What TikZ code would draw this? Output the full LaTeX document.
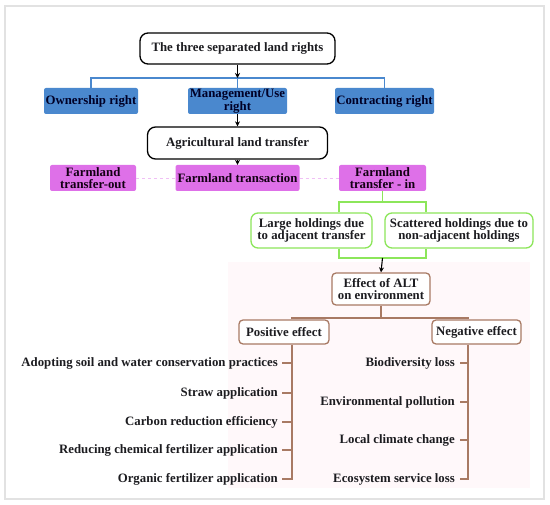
\documentclass[tikz,border=0pt]{standalone}
\usepackage{fontspec}
\setmainfont{Liberation Serif}
\usetikzlibrary{arrows.meta}
\definecolor{bluebox}{RGB}{74,136,206}
\definecolor{pinkbox}{RGB}{222,112,232}
\definecolor{greenl}{RGB}{140,230,90}
\definecolor{brownl}{RGB}{168,122,100}
\definecolor{frame}{RGB}{226,226,226}
\definecolor{pinkbg}{RGB}{255,248,250}
\definecolor{txt}{RGB}{28,28,32}
\begin{document}
\begin{tikzpicture}[x=1pt,y=-1pt,
  every node/.style={font=\bfseries\fontsize{12.8}{12.6}\selectfont, text=txt, align=center, inner sep=1pt},
  blackbox/.style={draw=black, line width=1.3pt, rounded corners=8pt, fill=white},
  bluebx/.style={fill=bluebox, rounded corners=2pt, text=black!85!blue, minimum height=26pt},
  pinkbx/.style={fill=pinkbox, rounded corners=2pt, text=black!85!violet, minimum height=26pt},
  greenbx/.style={draw=greenl, line width=1.3pt, rounded corners=7pt, fill=white, minimum height=35pt},
  brownbx/.style={draw=brownl, line width=1.3pt, rounded corners=4pt, minimum height=24pt},
  arr/.style={-{Stealth[length=5pt,width=5pt]}, line width=1.1pt, black},
  blueln/.style={draw=bluebox, line width=1.3pt},
  greenln/.style={draw=greenl, line width=1.3pt},
  brownln/.style={draw=brownl, line width=1.3pt},
  item/.style={anchor=east, inner sep=0pt}
]
\useasboundingbox (0,0) rectangle (550,505);
\fill[white] (0,0) rectangle (550,505);
\draw[frame, line width=2pt] (5,6) rectangle (544,499);
\fill[pinkbg] (228,262) rectangle (530,488);

% top
\node[blackbox, minimum width=195pt, minimum height=31pt] (top) at (237.5,48.5) {The three separated land rights};
\node[bluebx, minimum width=94pt] (own) at (91,101) {Ownership right};
\node[bluebx, minimum width=99pt, inner sep=0pt] (mgmt) at (237.5,101) {Management/Use\\right};
\node[bluebx, minimum width=99pt] (con) at (384.5,101) {Contracting right};
\coordinate (bus) at (237.5,78);
\draw[blueln] (own.north) |- (bus) -| (con.north);
\draw[blueln] (bus) -- (mgmt.north);
\draw[arr] (top.south) -- (bus);

\node[blackbox, minimum width=180pt, minimum height=32pt] (alt) at (237.5,143) {Agricultural land transfer};
\draw[arr] (mgmt.south) -- (alt.north);

\node[pinkbx, minimum width=86pt, inner sep=0pt] (out) at (93,178) {Farmland\\transfer-out};
\node[pinkbx, minimum width=124pt] (trans) at (237.5,178) {Farmland transaction};
\node[pinkbx, minimum width=87pt, inner sep=0pt] (in) at (382.5,178) {Farmland\\transfer - in};
\draw[arr] (alt.south) -- (trans.north);
\draw[pinkbox!45, dashed, line width=0.8pt] (out.east) -- (trans.west);
\draw[pinkbox!45, dashed, line width=0.8pt] (trans.east) -- (in.west);

\node[greenbx, minimum width=121pt, inner sep=0pt] (large) at (311.5,230.5) {Large holdings due\\to adjacent transfer};
\node[greenbx, minimum width=148pt, inner sep=0pt] (scat) at (459,230.5) {Scattered holdings due to\\non-adjacent holdings};
\coordinate (gt) at (382.5,202);
\coordinate (gtl) at (339,202);
\coordinate (gtr) at (426,202);
\coordinate (gb) at (382.5,258);
\coordinate (gbl) at (339,258);
\coordinate (gbr) at (426,258);
\draw[greenln] (in.south) -- (gt);
\draw[greenln] (large.north -| gtl) -- (gtl) -- (gtr) -- (scat.north -| gtr);
\draw[greenln] (large.south -| gbl) -- (gbl) -- (gbr) -- (scat.south -| gbr);

\node[brownbx, minimum width=98pt, minimum height=32pt, inner sep=0pt, fill=white] (eff) at (381,289) {Effect of ALT\\on environment};
\draw[arr] (gb) -- (eff.north);

\node[brownbx, minimum width=90pt, fill=white] (pos) at (284,332) {Positive effect};
\node[brownbx, minimum width=89pt, fill=white] (neg) at (476.5,332) {Negative effect};
\coordinate (bt) at (381,318);
\coordinate (btl) at (292,318);
\coordinate (btr) at (468,318);
\draw[brownln] (eff.south) -- (bt);
\draw[brownln] (pos.north -| btl) -- (btl) -- (btr) -- (neg.north -| btr);

% positive items
\coordinate (pe) at (292,479);
\draw[brownln] (pos.south -| pe) -- (pe) -- ++(-10,0);
\foreach \y/\t [count=\i] in {363/Adopting soil and water conservation practices, 393/Straw application, 422/Carbon reduction efficiency, 450/Reducing chemical fertilizer application, 479/Organic fertilizer application}{
  \node[item] (p\i) at (278,\y) {\t};
  \ifnum\i<5 \draw[brownln] (p\i.east -| pe) -- ++(-10,0); \fi
}
% negative items
\coordinate (ne) at (468,479);
\draw[brownln] (neg.south -| ne) -- (ne) -- ++(-8,0);
\foreach \y/\t [count=\i] in {363/Biodiversity loss, 402/Environmental pollution, 440/Local climate change, 479/Ecosystem service loss}{
  \node[item] (n\i) at (455,\y) {\t};
  \ifnum\i<4 \draw[brownln] (n\i.east -| ne) -- ++(-8,0); \fi
}
\end{tikzpicture}
\end{document}
